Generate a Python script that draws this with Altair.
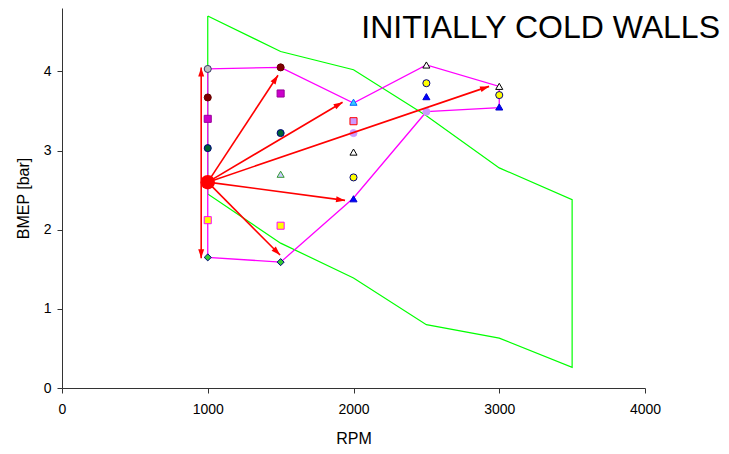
import math
import altair as alt
import pandas as pd

# ---------------- data ----------------
title_text = "INITIALLY COLD WALLS"

# green operating envelope (closed polygon)
env_rpm = [1000, 1500, 2000, 2500, 3000, 3500, 3500, 3000, 2500, 2000, 1500, 1000, 1000]
env_bmep = [4.70, 4.25, 4.02, 3.44, 2.78, 2.38, 0.26, 0.63, 0.80, 1.39, 1.83, 2.45, 4.70]

# magenta tested region (closed polygon)
mag_rpm = [1000, 1500, 2000, 2500, 3000, 3000, 2500, 2000, 1500, 1000, 1000]
mag_bmep = [4.03, 4.05, 3.60, 4.08, 3.81, 3.54, 3.49, 2.40, 1.59, 1.65, 4.03]

# measured points
pt_rpm = [1000, 1000, 1500, 1000, 1500, 1000, 1500, 1500, 1000, 1500, 1000, 1500,
          2000, 2000, 2000, 2500, 2000, 2500, 3000, 2000, 2500, 3000, 2000, 2500, 3000]
pt_bmep = [4.03, 3.67, 4.05, 3.40, 3.72, 3.03, 3.22, 2.70, 2.12, 2.05, 1.65, 1.59,
           3.61, 3.37, 3.22, 3.49, 2.98, 4.08, 3.81, 2.66, 3.85, 3.70, 2.39, 3.68, 3.55]
pt_series = ["S1", "S2", "S2", "S3", "S3", "S4", "S4", "S5", "S6", "S6", "S7", "S7",
             "S8", "S9", "S10", "S10", "S11", "S11", "S11", "S12", "S12", "S12", "S13", "S13", "S13"]

series_names = ["S1", "S2", "S3", "S4", "S5", "S6", "S7", "S8", "S9", "S10", "S11", "S12", "S13"]
series_shape = ["circle", "circle", "square", "circle", "triangle-up", "square", "diamond",
                "triangle-up", "square", "circle", "triangle-up", "circle", "triangle-up"]
series_fill = ["#C0C0C0", "#800000", "#CC00CC", "#006633", "#CCCCFF", "#FFFF00", "#33CC33",
               "#33CCFF", "#CC99FF", "#CC99FF", "#FFFFFF", "#FFFF00", "#0000FF"]
series_stroke = ["#333366", "#660000", "#990099", "#000080", "#339933", "#FF00FF", "#000080",
                 "#0066FF", "#FF0000", "#CC99FF", "#000000", "#000080", "#0000CC"]
series_size = [50, 50, 50, 50, 90, 50, 45, 90, 50, 50, 90, 50, 90]

# start operating point and arrows
start_rpm = [1000]
start_bmep = [2.60]
tip_rpm = [1482, 1925, 2930, 1942, 1496]
tip_bmep = [3.95, 3.61, 3.81, 2.37, 1.68]
dbl_rpm = [955]
dbl_lo = [1.64]
dbl_hi = [4.05]

# ---------------- layout ----------------
W, H = 583, 380
XMAX, YMAX = 4000, 4.8
kx, ky = W / XMAX, H / YMAX
FONT = "Liberation Sans"

xs = alt.Scale(domain=[0, XMAX])
ys = alt.Scale(domain=[0, YMAX])
xax = alt.Axis(values=[0, 1000, 2000, 3000, 4000], format="d", title="RPM", grid=False,
               labelFlush=False)
yax = alt.Axis(values=[0, 1, 2, 3, 4], format="d", title="BMEP [bar]", grid=False,
               labelFlush=False)

env_df = pd.DataFrame({"rpm": env_rpm, "bmep": env_bmep, "o": list(range(len(env_rpm)))})
mag_df = pd.DataFrame({"rpm": mag_rpm, "bmep": mag_bmep, "o": list(range(len(mag_rpm)))})
pt_df = pd.DataFrame({"rpm": pt_rpm, "bmep": pt_bmep, "s": pt_series})

# arrow shafts
shaft_x1 = start_rpm * len(tip_rpm) + dbl_rpm
shaft_y1 = start_bmep * len(tip_rpm) + dbl_lo
shaft_x2 = tip_rpm + dbl_rpm
shaft_y2 = tip_bmep + dbl_hi
shaft_df = pd.DataFrame({"x1": shaft_x1, "y1": shaft_y1, "x2": shaft_x2, "y2": shaft_y2})

# arrow heads (tip position + direction angle in screen space)
head_x, head_y, head_a = [], [], []
for x1, y1, x2, y2 in zip(shaft_x1, shaft_y1, shaft_x2, shaft_y2):
    ang = math.degrees(math.atan2((x2 - x1) * kx, (y2 - y1) * ky)) % 360
    head_x.append(x2); head_y.append(y2); head_a.append(ang)
# second head of the double arrow
ang = math.degrees(math.atan2(0.0, (dbl_lo[0] - dbl_hi[0]) * ky)) % 360
head_x.append(dbl_rpm[0]); head_y.append(dbl_lo[0]); head_a.append(ang)
head_df = pd.DataFrame({"x": head_x, "y": head_y, "a": head_a})

start_df = pd.DataFrame({"rpm": start_rpm, "bmep": start_bmep})

base_x = alt.X("rpm:Q", scale=xs, axis=xax)
base_y = alt.Y("bmep:Q", scale=ys, axis=yax)

env = alt.Chart(env_df).mark_line(color="#00FF00", strokeWidth=1.2).encode(
    x=base_x, y=base_y, order="o:Q")
mag = alt.Chart(mag_df).mark_line(color="#FF00FF", strokeWidth=1.3).encode(
    x=alt.X("rpm:Q", scale=xs), y=alt.Y("bmep:Q", scale=ys), order="o:Q")

pts = alt.Chart(pt_df).mark_point(filled=True, opacity=1, strokeWidth=1).encode(
    x=alt.X("rpm:Q", scale=xs),
    y=alt.Y("bmep:Q", scale=ys),
    shape=alt.Shape("s:N", scale=alt.Scale(domain=series_names, range=series_shape), legend=None),
    fill=alt.Fill("s:N", scale=alt.Scale(domain=series_names, range=series_fill), legend=None),
    stroke=alt.Stroke("s:N", scale=alt.Scale(domain=series_names, range=series_stroke), legend=None),
    size=alt.Size("s:N", scale=alt.Scale(domain=series_names, range=series_size), legend=None),
)

shafts = alt.Chart(shaft_df).mark_rule(color="#FF0000", strokeWidth=1.6).encode(
    x=alt.X("x1:Q", scale=xs), y=alt.Y("y1:Q", scale=ys), x2="x2:Q", y2="y2:Q")

heads = alt.Chart(head_df).mark_point(
    shape="M0,0L-0.33,1L0.33,1Z", filled=True, color="#FF0000", opacity=1, size=324
).encode(
    x=alt.X("x:Q", scale=xs), y=alt.Y("y:Q", scale=ys), angle=alt.Angle("a:Q", scale=None))

start = alt.Chart(start_df).mark_circle(color="#FF0000", opacity=1, size=210).encode(
    x=alt.X("rpm:Q", scale=xs), y=alt.Y("bmep:Q", scale=ys))

title = alt.Chart(pd.DataFrame({"t": [title_text]})).mark_text(
    align="right", baseline="alphabetic", fontSize=32, font=FONT, color="black"
).encode(text="t:N", x=alt.value(658), y=alt.value(30))

chart = alt.layer(env, mag, pts, shafts, heads, start, title).properties(
    width=W, height=H,
    autosize=alt.AutoSizeParams(type="none"),
    padding={"left": 54, "top": 0, "right": 76, "bottom": 58},
).configure_view(stroke=None).configure_axis(
    labelFont=FONT, titleFont=FONT, labelFontSize=14, titleFontSize=16,
    labelColor="black", titleColor="black", domainColor="#333333", tickColor="#333333",
    tickSize=5, titleFontWeight="normal",
).configure_axisX(labelPadding=9, titlePadding=14).configure_axisY(labelPadding=6, titlePadding=12)

chart.save("out.html", embed_options={"renderer": "svg", "actions": False})
